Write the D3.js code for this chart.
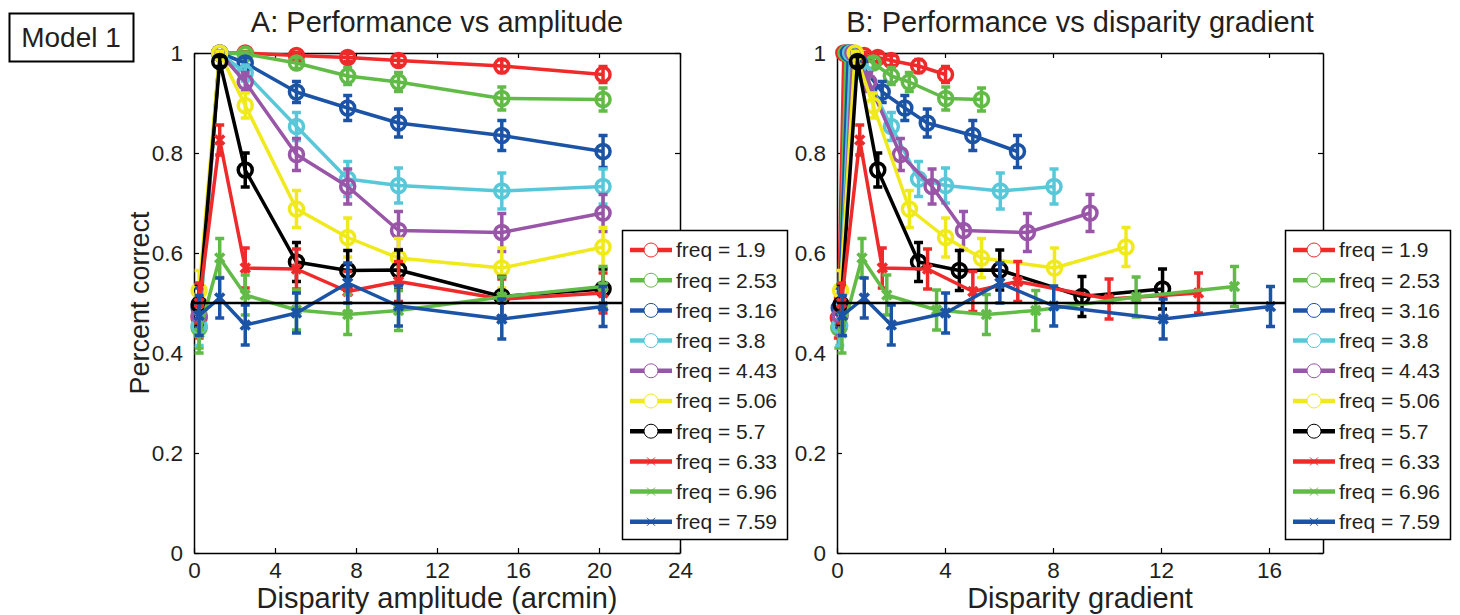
<!DOCTYPE html>
<html>
<head>
<meta charset="utf-8">
<script src="https://cdn.jsdelivr.net/npm/d3@7"></script>
<style>
  body { margin: 0; background: #fff; }
  svg { display: block; font-family: "Liberation Sans", Arial, sans-serif; }
</style>
</head>
<body>
<script>
// amplitudes de disparité (arcmin), communes à toutes les séries
const ampArcmin = [0.253, 1.27, 2.53, 5.06, 7.59, 10.1, 15.2, 20.2];

// fréquences (cycles/deg)
const freqs = [1.9, 2.53, 3.16, 3.8, 4.43, 5.06, 5.7, 6.33, 6.96, 7.59];
const markers = ["o", "o", "o", "o", "o", "o", "o", "x", "x", "x"];
const colors = ["#ee2a2b", "#62bb47", "#1b53a6", "#58c8d9", "#9955a7", "#f0ea1c", "#000000", "#ee2a2b", "#62bb47", "#1b53a6"];

// pourcentage correct, une liste par fréquence
const pcF190 = [0.47, 1.0, 1.0, 0.995, 0.991, 0.985, 0.974, 0.957];
const pcF253 = [0.45, 1.0, 0.998, 0.98, 0.954, 0.942, 0.909, 0.907];
const pcF316 = [0.49, 1.0, 0.98, 0.922, 0.89, 0.86, 0.835, 0.803];
const pcF380 = [0.455, 1.0, 0.96, 0.853, 0.748, 0.735, 0.724, 0.733];
const pcF443 = [0.475, 1.0, 0.942, 0.797, 0.733, 0.645, 0.641, 0.68];
const pcF506 = [0.525, 1.0, 0.895, 0.688, 0.631, 0.59, 0.57, 0.612];
const pcF570 = [0.497, 0.983, 0.766, 0.582, 0.565, 0.566, 0.513, 0.528];
const pcF633 = [0.5, 0.826, 0.57, 0.568, 0.523, 0.543, 0.508, 0.52];
const pcF696 = [0.44, 0.59, 0.516, 0.486, 0.477, 0.485, 0.512, 0.533];
const pcF759 = [0.475, 0.51, 0.456, 0.48, 0.54, 0.494, 0.468, 0.493];

// demi-longueur des barres d'erreur
const errF190 = [0.04, 0.003, 0.003, 0.006, 0.008, 0.01, 0.013, 0.016];
const errF253 = [0.04, 0.003, 0.004, 0.011, 0.017, 0.019, 0.023, 0.023];
const errF316 = [0.04, 0.003, 0.011, 0.021, 0.025, 0.028, 0.03, 0.032];
const errF380 = [0.04, 0.003, 0.016, 0.028, 0.035, 0.035, 0.036, 0.035];
const errF443 = [0.04, 0.003, 0.019, 0.032, 0.035, 0.038, 0.038, 0.037];
const errF506 = [0.04, 0.003, 0.025, 0.037, 0.039, 0.039, 0.04, 0.039];
const errF570 = [0.04, 0.01, 0.034, 0.039, 0.04, 0.04, 0.04, 0.04];
const errF633 = [0.04, 0.03, 0.04, 0.04, 0.04, 0.04, 0.04, 0.04];
const errF696 = [0.04, 0.039, 0.04, 0.04, 0.04, 0.04, 0.04, 0.04];
const errF759 = [0.04, 0.04, 0.04, 0.04, 0.04, 0.04, 0.04, 0.04];

const yTicks = [0, 0.2, 0.4, 0.6, 0.8, 1];
const ampTicks = [0, 4, 8, 12, 16, 20, 24];
const gradTicks = [0, 4, 8, 12, 16];

const pcs = [pcF190, pcF253, pcF316, pcF380, pcF443, pcF506, pcF570, pcF633, pcF696, pcF759];
const errs = [errF190, errF253, errF316, errF380, errF443, errF506, errF570, errF633, errF696, errF759];

const series = freqs.map((f, i) => ({
    freq: f,
    marker: markers[i],
    color: colors[i],
    points: ampArcmin.map((a, j) => ({
        amp: a,
        // gradient de disparité = 2*pi*f*A, A en degrés
        grad: 2 * Math.PI * f * a / 60,
        pc: pcs[i][j],
        err: errs[i][j]
    }))
}));

const width = 1460, height = 615;
const axTop = 53, axBottom = 553, axW = 486;
const txt = "#231f20";

const svg = d3.select("body").append("svg")
    .attr("width", width)
    .attr("height", height);

// boîte "Model 1"
svg.append("rect").attr("x", 9.5).attr("y", 13.5).attr("width", 124).attr("height", 48)
    .attr("fill", "#fff").attr("stroke", "#000").attr("stroke-width", 2);
svg.append("text").attr("x", 71).attr("y", 47).attr("text-anchor", "middle")
    .style("font-size", "28px").style("fill", txt).text("Model 1");

function panel(cfg) {
    const x = d3.scaleLinear().domain(cfg.xDomain).range([cfg.left, cfg.left + axW]);
    const y = d3.scaleLinear().domain([0, 1]).range([axBottom, axTop]);
    const g = svg.append("g");

    // axes (ticks vers l'intérieur, style matlab)
    const styleAxis = sel => {
        sel.select(".domain").attr("stroke", "#000").attr("stroke-width", 1.5);
        sel.selectAll(".tick line").attr("stroke", "#000").attr("stroke-width", 1.2);
        sel.selectAll("text").style("font-size", "22.5px").style("fill", txt)
            .style("font-family", "Liberation Sans, Arial, sans-serif");
    };
    g.append("g").attr("transform", `translate(0,${axBottom})`)
        .call(d3.axisBottom(x).tickValues(cfg.xTicks).tickSizeInner(-5).tickSizeOuter(0).tickPadding(9).tickFormat(d3.format("d")))
        .call(styleAxis);
    g.append("g").attr("transform", `translate(0,${axTop})`)
        .call(d3.axisTop(x).tickValues(cfg.xTicks).tickSizeInner(-5).tickSizeOuter(0).tickFormat(""))
        .call(styleAxis);
    g.append("g").attr("transform", `translate(${cfg.left},0)`)
        .call(d3.axisLeft(y).tickValues(yTicks).tickSizeInner(-5).tickSizeOuter(0).tickPadding(11).tickFormat(d => String(+d.toFixed(1))))
        .call(styleAxis);
    g.append("g").attr("transform", `translate(${cfg.left + axW},0)`)
        .call(d3.axisRight(y).tickValues(yTicks).tickSizeInner(-5).tickSizeOuter(0).tickFormat(""))
        .call(styleAxis);

    // titre + label x
    g.append("text").attr("x", cfg.left + axW / 2).attr("y", 32).attr("text-anchor", "middle")
        .style("font-size", "29px").style("fill", txt).text(cfg.title);
    g.append("text").attr("x", cfg.left + axW / 2).attr("y", 608).attr("text-anchor", "middle")
        .style("font-size", "29px").style("fill", txt).text(cfg.xLabel);

    // séries
    series.forEach(s => {
        const sg = g.append("g")
            .attr("stroke", s.color).attr("fill", "none")
            .attr("stroke-width", 3.5).attr("stroke-linecap", "butt");
        sg.append("path")
            .attr("stroke-linejoin", "round")
            .attr("d", d3.line().x(d => x(d[cfg.xKey])).y(d => y(d.pc))(s.points));
        // barres d'erreur
        const eb = sg.selectAll("g.eb").data(s.points).join("g").attr("class", "eb");
        eb.append("line")
            .attr("x1", d => x(d[cfg.xKey])).attr("x2", d => x(d[cfg.xKey]))
            .attr("y1", d => y(d.pc - d.err)).attr("y2", d => y(d.pc + d.err));
        eb.append("line")
            .attr("x1", d => x(d[cfg.xKey]) - 4.5).attr("x2", d => x(d[cfg.xKey]) + 4.5)
            .attr("y1", d => y(d.pc - d.err)).attr("y2", d => y(d.pc - d.err));
        eb.append("line")
            .attr("x1", d => x(d[cfg.xKey]) - 4.5).attr("x2", d => x(d[cfg.xKey]) + 4.5)
            .attr("y1", d => y(d.pc + d.err)).attr("y2", d => y(d.pc + d.err));
        // marqueurs
        if (s.marker === "o") {
            sg.selectAll("circle").data(s.points).join("circle")
                .attr("cx", d => x(d[cfg.xKey])).attr("cy", d => y(d.pc)).attr("r", 7);
        } else {
            sg.selectAll("path.mk").data(s.points).join("path").attr("class", "mk")
                .attr("d", d => {
                    const cx = x(d[cfg.xKey]), cy = y(d.pc), r = 4.5;
                    return `M${cx - r},${cy - r}L${cx + r},${cy + r}M${cx - r},${cy + r}L${cx + r},${cy - r}`;
                });
        }
    });

    // ligne du hasard à 0.5
    g.append("line")
        .attr("x1", x.range()[0]).attr("x2", x.range()[1])
        .attr("y1", y(0.5)).attr("y2", y(0.5))
        .attr("stroke", "#000").attr("stroke-width", 2.5);

    // légende
    const lg = g.append("g").attr("transform", `translate(${cfg.legendX},230)`);
    lg.append("rect").attr("x", 0.5).attr("y", 0.5).attr("width", 165).attr("height", 309)
        .attr("fill", "#fff").attr("stroke", "#000").attr("stroke-width", 1.5);
    series.forEach((s, i) => {
        const ly = 20 + i * 30.2;
        const row = lg.append("g").attr("transform", `translate(0,${ly})`);
        row.append("line").attr("x1", 8).attr("x2", 50).attr("y1", 0).attr("y2", 0)
            .attr("stroke", s.color).attr("stroke-width", 4.5);
        if (s.marker === "o") {
            row.append("circle").attr("cx", 29).attr("cy", 0).attr("r", 7)
                .attr("fill", "#fff").attr("stroke", s.color).attr("stroke-width", 1);
        } else {
            row.append("path").attr("d", "M25,-4L33,4M25,4L33,-4")
                .attr("stroke", s.color).attr("stroke-width", 1).attr("fill", "none");
        }
        row.append("text").attr("x", 54).attr("y", 0).attr("dy", "0.35em")
            .style("font-size", "21px").style("fill", txt)
            .text(`freq = ${s.freq}`);
    });
}

panel({
    left: 194,
    xDomain: [0, 24],
    xTicks: ampTicks,
    xKey: "amp",
    title: "A: Performance vs amplitude",
    xLabel: "Disparity amplitude (arcmin)",
    legendX: 622
});

panel({
    left: 837,
    xDomain: [0, 18],
    xTicks: gradTicks,
    xKey: "grad",
    title: "B: Performance vs disparity gradient",
    xLabel: "Disparity gradient",
    legendX: 1285
});

// label y commun
svg.append("text")
    .attr("transform", "translate(149,303) rotate(-90)")
    .attr("text-anchor", "middle")
    .style("font-size", "27px").style("fill", txt)
    .text("Percent correct");
</script>
</body>
</html>
